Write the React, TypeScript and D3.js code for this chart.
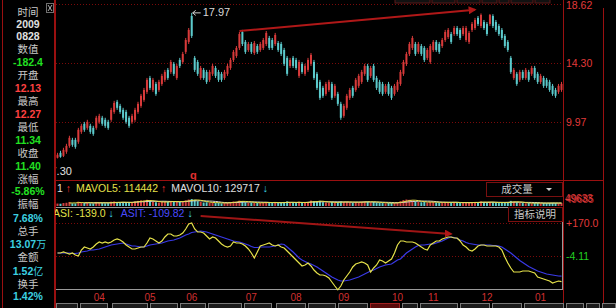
import React from 'react';
import * as d3 from 'd3';

// ---------------- DATA ----------------
const opens = [
  7.35, 7.71, 7.49, 7.79, 8.22, 8.66, 8.66, 8.52, 9.25, 9.84,
  9.54, 9.69, 9.54, 9.54, 9.98, 10.28, 10.13, 9.98, 10.13, 10.71,
  11.45, 11.15, 10.86, 10.71, 10.28, 9.98, 10.13, 10.71, 11.15, 11.59,
  12.18, 13.2, 12.32, 12.76, 12.32, 12.76, 13.06, 13.79, 13.64, 14.23,
  13.2, 14.52, 14.37, 15.11, 15.84, 17.74, 14.67, 14.37, 13.2, 13.79,
  13.64, 13.06, 13.5, 13.93, 13.64, 13.5, 13.2, 13.5, 13.93, 14.52,
  14.81, 15.4, 16.57, 15.84, 15.25, 15.69, 15.03, 15.54, 15.25, 15.4,
  15.69, 16.13, 15.98, 15.69, 15.76, 15.69, 15.25, 14.67, 14.08, 14.67,
  14.52, 13.35, 14.23, 13.5, 13.79, 14.23, 14.37, 13.5, 12.91, 12.47,
  12.03, 12.32, 12.76, 11.89, 12.03, 11.3, 10.42, 11.01, 11.74, 12.47,
  12.32, 12.62, 12.91, 13.5, 14.08, 13.35, 14.08, 13.2, 12.91, 12.76,
  12.18, 12.76, 12.47, 12.03, 12.32, 12.76, 13.5, 14.23, 14.96, 15.4,
  15.69, 15.11, 15.54, 15.4, 14.67, 14.37, 15.25, 15.84, 15.69, 15.54,
  15.98, 16.2, 16.42, 16.42, 16.86, 16.72, 16.42, 15.98, 15.84, 16.72,
  16.86, 17.6, 17.01, 17.3, 17.16, 17.16, 17.74, 17.3, 17.01, 16.72,
  16.28, 15.84, 14.67, 13.2, 13.5, 13.06, 13.64, 13.2, 13.64, 13.5,
  13.93, 13.5, 12.91, 13.2, 13.06, 12.91, 12.62, 12.32, 12.18, 12.32,
];
const closes = [
  7.57, 7.42, 7.93, 8.22, 8.81, 8.3, 8.15, 9.4, 9.69, 9.4,
  9.98, 9.25, 9.1, 10.28, 10.42, 9.84, 9.69, 9.54, 10.86, 11.37,
  11.01, 10.71, 10.28, 9.98, 9.69, 10.42, 10.86, 11.3, 11.89, 12.32,
  13.06, 12.47, 13.06, 12.03, 12.91, 13.35, 13.64, 13.2, 14.37, 13.5,
  14.08, 14.08, 14.96, 15.98, 16.72, 16.28, 13.79, 13.5, 13.93, 13.2,
  12.91, 13.64, 14.08, 13.35, 13.06, 13.06, 13.64, 14.08, 14.52, 15.11,
  15.4, 16.42, 15.69, 15.11, 15.69, 15.11, 15.76, 15.11, 15.69, 15.98,
  16.5, 15.4, 15.4, 16.35, 15.25, 14.96, 14.23, 13.5, 14.52, 14.08,
  13.93, 14.37, 13.64, 14.08, 14.52, 14.89, 13.2, 12.47, 11.74, 11.89,
  12.76, 12.91, 11.74, 12.62, 11.3, 10.28, 11.15, 11.89, 12.32, 11.89,
  13.06, 13.35, 13.64, 14.08, 13.06, 13.93, 13.06, 12.47, 12.18, 12.03,
  12.62, 12.03, 11.74, 12.62, 12.91, 13.64, 14.37, 14.96, 15.69, 16.13,
  14.96, 15.69, 14.96, 14.52, 15.25, 15.54, 15.84, 15.25, 15.11, 15.98,
  16.57, 16.72, 15.84, 16.86, 16.42, 16.13, 16.86, 16.86, 16.5, 17.16,
  17.45, 17.16, 17.82, 16.86, 16.42, 17.82, 17.01, 16.72, 16.42, 16.13,
  15.54, 15.25, 13.64, 13.79, 12.76, 13.64, 13.2, 13.79, 13.06, 13.93,
  13.2, 12.91, 13.35, 12.62, 12.62, 12.32, 12.03, 11.89, 12.62, 12.76,
];
const highs = [
  7.71, 7.86, 8.08, 8.37, 8.96, 8.81, 8.81, 9.54, 9.84, 9.98,
  10.13, 9.84, 9.69, 10.42, 10.57, 10.42, 10.28, 10.13, 11.01, 11.52,
  11.59, 11.3, 11.01, 10.86, 10.42, 10.57, 11.01, 11.45, 12.03, 12.47,
  13.2, 13.35, 13.2, 12.91, 13.06, 13.5, 13.79, 13.93, 14.52, 14.37,
  14.23, 14.67, 15.11, 16.13, 16.86, 17.97, 14.81, 14.52, 14.08, 13.93,
  13.79, 13.79, 14.23, 14.08, 13.79, 13.64, 13.79, 14.23, 14.67, 15.25,
  15.54, 16.57, 16.72, 15.98, 15.84, 15.84, 15.91, 15.69, 15.84, 16.13,
  16.64, 16.28, 16.13, 16.5, 15.91, 15.84, 15.4, 14.81, 14.67, 14.81,
  14.67, 14.52, 14.37, 14.23, 14.67, 15.03, 14.52, 13.64, 13.06, 12.62,
  12.91, 13.06, 12.91, 12.76, 12.18, 11.45, 11.3, 12.03, 12.47, 12.62,
  13.2, 13.5, 13.79, 14.23, 14.23, 14.08, 14.23, 13.35, 13.06, 12.91,
  12.76, 12.91, 12.62, 12.76, 13.06, 13.79, 14.52, 15.11, 15.84, 16.28,
  15.84, 15.84, 15.69, 15.54, 15.4, 15.69, 15.98, 15.98, 15.84, 16.13,
  16.72, 16.86, 16.57, 17.01, 17.01, 16.86, 17.01, 17.01, 16.64, 17.3,
  17.6, 17.74, 17.93, 17.45, 17.3, 17.89, 17.87, 17.45, 17.16, 16.86,
  16.42, 15.98, 14.81, 13.93, 13.64, 13.79, 13.79, 13.93, 13.79, 14.08,
  14.08, 13.64, 13.5, 13.35, 13.2, 13.06, 12.76, 12.47, 12.76, 12.91,
];
const lows = [
  7.3, 7.35, 7.4, 7.64, 8.08, 8.15, 8.01, 8.37, 9.1, 9.25,
  9.4, 9.1, 8.96, 9.4, 9.84, 9.69, 9.54, 9.4, 9.98, 10.57,
  10.86, 10.57, 10.13, 9.84, 9.54, 9.84, 9.98, 10.57, 11.01, 11.45,
  12.03, 12.32, 12.18, 11.89, 12.18, 12.62, 12.91, 13.06, 13.5, 13.35,
  13.06, 13.93, 14.23, 14.96, 15.69, 16.13, 13.64, 13.35, 13.06, 13.06,
  12.76, 12.91, 13.35, 13.2, 12.91, 12.91, 13.06, 13.35, 13.79, 14.37,
  14.67, 15.25, 15.54, 14.96, 15.11, 14.96, 14.89, 14.96, 15.11, 15.25,
  15.54, 15.25, 15.25, 15.54, 15.11, 14.81, 14.08, 13.35, 13.93, 13.93,
  13.79, 13.2, 13.5, 13.35, 13.64, 14.08, 13.06, 12.32, 11.59, 11.74,
  11.89, 12.18, 11.59, 11.74, 11.15, 10.13, 10.28, 10.86, 11.59, 11.74,
  12.18, 12.47, 12.76, 13.35, 12.91, 13.2, 12.91, 12.32, 12.03, 11.89,
  12.03, 11.89, 11.59, 11.89, 12.18, 12.62, 13.35, 14.08, 14.81, 15.25,
  14.81, 14.96, 14.81, 14.37, 14.52, 14.23, 15.11, 15.11, 14.96, 15.4,
  15.84, 16.06, 15.69, 16.28, 16.28, 15.98, 16.28, 15.84, 15.69, 16.57,
  16.72, 17.01, 16.86, 16.72, 16.28, 17.01, 16.86, 16.57, 16.28, 15.98,
  15.4, 15.11, 13.5, 13.06, 12.62, 12.91, 13.06, 13.06, 12.91, 13.35,
  13.06, 12.76, 12.76, 12.47, 12.47, 12.18, 11.89, 11.74, 12.03, 12.18,
];
const volumes = [
  90000, 85000, 110000, 120000, 150000, 100000, 95000, 160000, 140000, 110000,
  120000, 100000, 95000, 150000, 130000, 110000, 100000, 105000, 160000, 170000,
  140000, 120000, 130000, 140000, 150000, 130000, 170000, 190000, 210000, 200000,
  230000, 180000, 150000, 140000, 130000, 160000, 170000, 150000, 180000, 170000,
  160000, 150000, 170000, 210000, 240000, 260000, 230000, 180000, 150000, 130000,
  140000, 120000, 130000, 110000, 120000, 100000, 110000, 130000, 150000, 170000,
  160000, 200000, 180000, 140000, 120000, 130000, 120000, 110000, 120000, 130000,
  150000, 130000, 120000, 130000, 110000, 120000, 150000, 170000, 130000, 120000,
  110000, 160000, 130000, 120000, 150000, 200000, 180000, 170000, 190000, 140000,
  130000, 120000, 150000, 130000, 140000, 170000, 150000, 160000, 140000, 120000,
  150000, 140000, 160000, 170000, 160000, 140000, 150000, 130000, 120000, 110000,
  100000, 110000, 120000, 110000, 140000, 180000, 220000, 240000, 230000, 210000,
  170000, 150000, 140000, 150000, 130000, 160000, 150000, 130000, 120000, 130000,
  150000, 140000, 130000, 140000, 120000, 110000, 120000, 130000, 120000, 140000,
  150000, 130000, 170000, 140000, 130000, 150000, 140000, 120000, 110000, 120000,
  140000, 150000, 190000, 160000, 140000, 120000, 110000, 100000, 110000, 100000,
  110000, 120000, 100000, 110000, 105000, 115000, 120000, 110000, 100000, 105000,
];
const asiValues = [
  11.7, 11.7, 17.0, 11.7, 6.4, 11.7, 1.2, -4.1, 27.5, 43.4,
  38.1, 32.8, 43.4, 59.2, 69.8, 64.5, 69.8, 64.5, 69.8, 80.3,
  85.6, 80.3, 69.8, 53.9, 43.4, 32.8, 32.8, 38.1, 43.4, 43.4,
  64.5, 90.9, 85.6, 75.0, 64.5, 75.0, 96.1, 112.0, 112.0, 101.4,
  101.4, 106.7, 117.2, 138.3, 164.7, 170.0, 138.3, 122.5, 122.5, 117.2,
  101.4, 85.6, 96.1, 90.9, 75.0, 59.2, 48.7, 43.4, 48.7, 69.8,
  64.5, 64.5, 59.2, 48.7, 32.8, 11.7, -14.7, 17.0, 48.7, 53.9,
  59.2, 64.5, 53.9, 48.7, 53.9, 43.4, 38.1, 22.3, 6.4, -9.4,
  -25.2, -41.0, -56.9, -51.6, -41.0, -56.9, -78.0, -93.8, -104.4, -104.4,
  -109.6, -120.2, -141.3, -162.4, -182.4, -162.4, -130.7, -109.6, -88.5, -62.1,
  -46.3, -41.0, -35.8, -41.0, -51.6, -88.5, -67.4, -51.6, -25.2, -30.5,
  -41.0, -30.5, -19.9, 11.7, 53.9, 75.0, 75.0, 69.8, 69.8, 69.8,
  64.5, 53.9, 43.4, 32.8, 27.5, 53.9, 64.5, 75.0, 75.0, 85.6,
  90.9, 96.1, 96.1, 90.9, 90.9, 75.0, 53.9, 43.4, 27.5, 22.3,
  32.8, 48.7, 53.9, 53.9, 48.7, 48.7, 48.7, 48.7, 43.4, 27.5,
  -9.4, -41.0, -67.4, -88.5, -88.5, -88.5, -83.2, -83.2, -83.2, -88.5,
  -93.8, -114.9, -120.2, -125.5, -130.7, -136.0, -146.6, -141.3, -136.0, -139.0,
];
const asitValues = [
  11.7, 11.7, 11.7, 11.7, 11.7, 9.1, 9.1, 11.7, 17.0, 19.6,
  22.3, 27.5, 27.5, 30.2, 32.8, 38.1, 43.4, 48.7, 53.9, 56.6,
  59.2, 61.8, 64.5, 59.2, 53.9, 48.7, 48.7, 46.0, 43.4, 43.4,
  48.7, 53.9, 56.6, 59.2, 61.8, 64.5, 69.8, 75.0, 77.7, 80.3,
  85.6, 90.9, 98.8, 106.7, 112.0, 119.9, 122.5, 125.2, 127.8, 125.2,
  122.5, 117.2, 112.0, 106.7, 101.4, 96.1, 90.9, 85.6, 80.3, 75.0,
  72.4, 69.8, 64.5, 59.2, 53.9, 46.0, 40.7, 40.7, 43.4, 43.4,
  43.4, 43.4, 46.0, 48.7, 53.9, 59.2, 56.6, 43.4, 30.2, 17.0,
  1.2, -14.7, -25.2, -33.1, -41.0, -46.3, -54.2, -62.1, -72.7, -83.2,
  -93.8, -104.4, -114.9, -122.8, -130.7, -136.0, -136.0, -133.4, -130.7, -125.5,
  -120.2, -114.9, -107.0, -99.1, -91.2, -83.2, -78.0, -70.1, -62.1, -56.9,
  -51.6, -49.0, -46.3, -35.8, -25.2, -19.9, -4.1, 11.7, 22.3, 32.8,
  43.4, 51.3, 53.9, 53.9, 56.6, 59.2, 59.2, 64.5, 69.8, 75.0,
  82.9, 90.9, 96.1, 93.5, 88.2, 80.3, 75.0, 67.1, 61.8, 59.2,
  56.6, 53.9, 53.9, 53.9, 53.9, 53.9, 51.3, 51.3, 48.7, 43.4,
  32.8, 22.3, 11.7, -1.5, -14.7, -27.9, -38.4, -49.0, -59.5, -67.4,
  -75.3, -83.2, -88.5, -93.8, -99.1, -101.7, -104.4, -107.0, -109.6, -109.82,
];

const monthLabels = ['04', '05', '06', '07', '08', '09', '10', '11', '12', '01'];
const monthStartIndex = [14, 31, 45, 65, 80, 96, 114, 126, 144, 162];

const priceTicks = [18.62, 14.3, 9.97];
const asiTicks = [170.0, -4.11];
const asiTickText = ['+170.0', '-4.11'];

const infoLabels = ['时间', '数值', '开盘', '最高', '最低', '收盘', '涨幅', '振幅', '总手', '金额', '换手'];
const infoValues = ['2009\n0828', '-182.4', '12.13', '12.27', '11.34', '11.40', '-5.86%', '7.68%', '13.07万', '1.52亿', '1.42%'];
const infoColors = ['#e0e0e0', '#22e022', '#ff4040', '#ff4040', '#22e022', '#22e022', '#22e022', '#3cd0e0', '#3cd0e0', '#3cd0e0', '#3cd0e0'];

const peakLabel = '17.97';
const peakIndex = 45;
const lowLabelText = '7.30';
const lowIndex = 0;

// trend annotations: [index, value]
const priceTrend = [[61, 16.64], [140, 18.2]];
const asiTrend = [[48, 207], [132, 112]];

const volLegend = { mavol5: '114442', mavol10: '129717' };
const asiLegend = { asi: '-139.0', asit: '-109.82' };
const volAxisText = ['49633', '49685'];

// ---------------- STYLE ----------------
const NUM = '"Liberation Sans", Arial, sans-serif';
const CJK = '"Noto Sans CJK SC", "Noto Sans", sans-serif';
const RED = '#d83a3a';
const CYAN = '#5ccacc';
const GRID = '#7a0a0a';
const FRAME = '#9a1010';
const AXIS_TXT = '#e23a3a';

export default function App() {
  const W = 616, H = 308;
  const L = 56, R = 563;
  const n = opens.length;

  const x = d3.scaleBand<number>().domain(d3.range(n)).range([L, R]).paddingInner(0.3).paddingOuter(0.15);
  const cx = (i: number) => (x(i) as number) + x.bandwidth() / 2;
  const y = d3.scaleLinear().domain([9.97, 18.62]).range([122, 4]);
  const ya = d3.scaleLinear().domain([-4.11, 170]).range([256, 223]);
  const yv = d3.scaleLinear().domain([0, 260000]).range([206, 199]);

  const ma = (k: number) => volumes.map((_, i) => (i < k - 1 ? null : d3.mean(volumes.slice(i - k + 1, i + 1)) as number));
  const ma5 = ma(5), ma10 = ma(10);
  const volLine = d3.line<number | null>().defined(d => d != null).x((_, i) => cx(i)).y(d => yv(d as number));
  const asiLine = d3.line<number>().x((_, i) => cx(i)).y(d => ya(d));

  const bw = 2;

  const infoLabelY = [13, 50, 76, 102, 128, 154, 180, 205.5, 232.5, 258.5, 285];
  const infoValueY = [25, 63, 89, 115, 141, 167, 192.5, 219, 245, 272, 297.5];
  const dateSecondY = 37.5;

  const tabs = [[56, 78], [80, 108], [112, 148], [150, 178], [180, 206], [208, 242], [244, 272], [276, 306], [308, 336], [338, 368], [370, 400], [402, 418], [420, 458], [460, 490], [492, 522], [524, 564], [566, 584], [586, 600], [602, 616]];
  const toolbar = [[395, 430], [432, 455], [457, 480], [482, 497], [499, 509], [511, 533], [535, 550]];

  const pk = { x: cx(peakIndex), y: y(highs[peakIndex]) };

  return (
    <svg width={W} height={H} style={{ position: 'fixed', left: 0, top: 0, background: '#000' }}>
      <defs>
        <clipPath id="mainClip"><rect x={L} y={0} width={R - L} height={180} /></clipPath>
        <marker id="arr" viewBox="0 0 10 10" refX="8" refY="5" markerWidth="4" markerHeight="4" orient="auto">
          <path d="M0,0 L10,5 L0,10 z" fill="#b01818" />
        </marker>
      </defs>
      <rect x={0} y={0} width={W} height={H} fill="#000" />

      {/* top toolbar */}
      {toolbar.map(([a, b], k) => (
        <rect key={'tb' + k} x={a} y={-2} width={b - a} height={5} fill="#111" stroke="#5a1a1a" strokeWidth={1} />
      ))}

      {/* price grid */}
      {priceTicks.map((t, k) => (
        <line key={'pg' + k} x1={L} x2={R} y1={Math.round(y(t)) + 0.5} y2={Math.round(y(t)) + 0.5} stroke={GRID} strokeDasharray="1,2" />
      ))}

      {/* candles */}
      <g clipPath="url(#mainClip)">
        {opens.map((o, i) => {
          const c = closes[i];
          const up = c >= o;
          const col = up ? RED : CYAN;
          const top = y(Math.max(o, c));
          const bot = y(Math.min(o, c));
          return (
            <g key={'c' + i}>
              <line x1={cx(i)} x2={cx(i)} y1={y(highs[i])} y2={y(lows[i])} stroke={col} strokeWidth={1} />
              <rect x={cx(i) - bw / 2} y={top} width={bw} height={Math.max(1, bot - top)} fill={col} />
            </g>
          );
        })}
        {/* low label */}
        <text x={cx(lowIndex) - 7} y={y(lows[lowIndex]) + 14} fill="#e0e0e0" fontFamily={NUM} fontSize={11} dominantBaseline="middle">{lowLabelText}</text>
      </g>

      {/* peak label */}
      <line x1={pk.x + 1} x2={pk.x + 9} y1={pk.y} y2={pk.y} stroke="#d0d0d0" strokeWidth={1} />
      <path d={`M${pk.x + 4},${pk.y - 2.5} L${pk.x + 1},${pk.y} L${pk.x + 4},${pk.y + 2.5}`} stroke="#d0d0d0" fill="none" strokeWidth={1} />
      <text x={pk.x + 11} y={pk.y + 0.5} fill="#d8d8d8" fontFamily={NUM} fontSize={11} dominantBaseline="middle">{peakLabel}</text>

      {/* price trend arrow */}
      <line x1={cx(priceTrend[0][0])} y1={y(priceTrend[0][1])} x2={cx(priceTrend[1][0])} y2={y(priceTrend[1][1])}
        stroke="#b01818" strokeWidth={2} markerEnd="url(#arr)" />

      <text x={190} y={176} fill="#e03030" fontFamily={NUM} fontSize={11} fontWeight="bold" dominantBaseline="middle">q</text>

      {/* frames */}
      <line x1={L - 0.5} x2={L - 0.5} y1={0} y2={H} stroke={FRAME} />
      <line x1={R + 0.5} x2={R + 0.5} y1={0} y2={H} stroke={FRAME} />
      <line x1={603.5} x2={603.5} y1={8} y2={H} stroke={FRAME} />
      <line x1={L} x2={603} y1={180.5} y2={180.5} stroke={FRAME} />

      {/* right price labels */}
      {priceTicks.map((t, k) => (
        <text key={'pt' + k} x={566} y={Math.max(6, y(t) + 1)} fill={AXIS_TXT} fontFamily={NUM} fontSize={10.5} dominantBaseline="middle">{t.toFixed(2)}</text>
      ))}

      {/* volume legend */}
      <text x={57} y={189} fontFamily={NUM} fontSize={10.5} dominantBaseline="middle" fill="#e0e0e0">
        <tspan>1</tspan>
        <tspan fill="#ff3030" dx={3}>↑</tspan>
        <tspan fill="#e6e24a" dx={5}>{'MAVOL5: ' + volLegend.mavol5}</tspan>
        <tspan fill="#ff3030" dx={3}>↑</tspan>
        <tspan fill="#e0e0e0" dx={5}>{'MAVOL10: ' + volLegend.mavol10}</tspan>
        <tspan fill="#3cd0e0" dx={3}>↓</tspan>
      </text>

      {/* volume box */}
      <rect x={486.5} y={182.5} width={76} height={14} fill="#000" stroke="#7a1010" />
      <text x={517} y={190} fill="#c8c8c8" fontFamily={CJK} fontSize={10.5} textAnchor="middle" dominantBaseline="middle">成交量</text>
      <path d="M546,188 L552,188 L549,191 z" fill="#d0d0d0" />

      {/* volume bars */}
      {volumes.map((v, i) => {
        const up = closes[i] >= opens[i];
        return <rect key={'v' + i} x={cx(i) - 1} y={yv(v)} width={2} height={206 - yv(v)} fill={up ? '#d04040' : CYAN} />;
      })}
      <path d={volLine(ma10) || ''} fill="none" stroke="#d8d8d8" strokeWidth={1} />
      <path d={volLine(ma5) || ''} fill="none" stroke="#e6e24a" strokeWidth={1} />
      <text x={565} y={199} fill={AXIS_TXT} fontFamily={NUM} fontSize={10} dominantBaseline="middle">{volAxisText[0]}</text>
      <text x={566} y={200} fill={AXIS_TXT} fontFamily={NUM} fontSize={10} dominantBaseline="middle" opacity={0.8}>{volAxisText[1]}</text>

      {/* ASI panel */}
      <line x1={L} x2={R - 1} y1={207.5} y2={207.5} stroke="#9a9a9a" />
      <line x1={L} x2={R - 1} y1={289.5} y2={289.5} stroke="#9a9a9a" />
      <line x1={R - 0.5} x2={R - 0.5} y1={207} y2={290} stroke="#9a9a9a" />
      {asiTicks.map((t, k) => (
        <line key={'ag' + k} x1={L} x2={R - 1} y1={Math.round(ya(t)) + 0.5} y2={Math.round(ya(t)) + 0.5} stroke={GRID} strokeDasharray="1,2" />
      ))}
      <text x={566} y={ya(asiTicks[0]) + 1} fill={AXIS_TXT} fontFamily={NUM} fontSize={10.5} dominantBaseline="middle">{asiTickText[0]}</text>
      <text x={566} y={ya(asiTicks[1]) + 1} fill="#22d022" fontFamily={NUM} fontSize={10.5} dominantBaseline="middle">{asiTickText[1]}</text>

      <rect x={508.5} y={207.5} width={54} height={14} fill="#000" stroke="#7a1010" />
      <text x={535} y={215} fill="#c8c8c8" fontFamily={CJK} fontSize={10.5} textAnchor="middle" dominantBaseline="middle">指标说明</text>

      {/* asi trend */}
      <line x1={cx(asiTrend[0][0])} y1={ya(asiTrend[0][1])} x2={cx(asiTrend[1][0])} y2={ya(asiTrend[1][1])}
        stroke="#a01515" strokeWidth={2} markerEnd="url(#arr)" />

      <path d={asiLine(asitValues) || ''} fill="none" stroke="#3a3ae8" strokeWidth={1.2} />
      <path d={asiLine(asiValues) || ''} fill="none" stroke="#e6e24a" strokeWidth={1.2} />

      <text x={53} y={214} fontFamily={NUM} fontSize={10.5} dominantBaseline="middle" fill="#e6e24a">
        <tspan>{'ASI: ' + asiLegend.asi}</tspan>
        <tspan fill="#3cd0e0" dx={3}>↓</tspan>
        <tspan fill="#4a4aff" dx={7}>{'ASIT: ' + asiLegend.asit}</tspan>
        <tspan fill="#3cd0e0" dx={3}>↓</tspan>
      </text>

      {/* month labels */}
      {monthLabels.map((m, k) => (
        <text key={'m' + k} x={cx(monthStartIndex[k])} y={298} fill="#d03030" fontFamily={NUM} fontSize={10} textAnchor="middle" dominantBaseline="middle">{m}</text>
      ))}

      {/* bottom tabs */}
      {tabs.map(([a, b], k) => (
        <rect key={'t' + k} x={a + 0.5} y={303.5} width={b - a - 1} height={8} fill={k === 10 ? '#5a0a0a' : '#1c1c1c'} stroke={k === 10 ? '#a02020' : '#7a7a7a'} />
      ))}

      {/* left info panel */}
      <rect x={0} y={0} width={55} height={H} fill="#000" />
      <line x1={2.5} x2={2.5} y1={0} y2={H} stroke={FRAME} />
      <line x1={54.5} x2={54.5} y1={0} y2={H} stroke={FRAME} />
      <rect x={46.5} y={3.5} width={7} height={9} fill="#000" stroke="#707070" />
      <path d="M48,5 L52,11 M52,5 L48,11" stroke="#b0b0b0" strokeWidth={1} />
      {infoLabels.map((lab, k) => (
        <text key={'il' + k} x={28} y={infoLabelY[k]} fill="#c8c8c8" fontFamily={CJK} fontSize={10.5} textAnchor="middle" dominantBaseline="middle">{lab}</text>
      ))}
      {infoValues.map((val, k) => {
        const parts = val.split('\n');
        const multi = parts.length > 1;
        return parts.map((p, j) => (
          <text key={'iv' + k + '_' + j} x={28} y={multi ? (j === 0 ? infoValueY[k] : dateSecondY) : infoValueY[k]} fill={infoColors[k]}
            fontFamily={NUM} fontSize={10.5} fontWeight="bold" textAnchor="middle" dominantBaseline="middle">
            {p.replace(/[万亿]/, '')}
            {/[万亿]/.test(p) ? <tspan fontFamily={CJK} fontWeight="normal" fontSize={10}>{p.match(/[万亿]/)![0]}</tspan> : null}
          </text>
        ));
      })}
    </svg>
  );
}
